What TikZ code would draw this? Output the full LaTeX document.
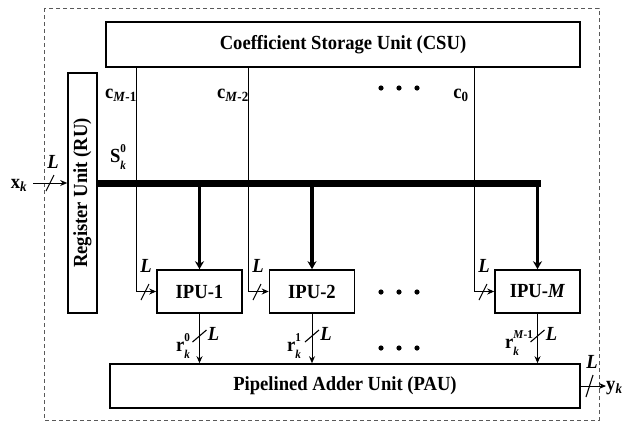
\documentclass[tikz,border=0pt]{standalone}
\usepackage{fontspec}
\setmainfont{Liberation Serif}[FakeStretch=0.93]
\usetikzlibrary{arrows.meta}
\newcommand\stk[3]{#1\rlap{\raisebox{1.15ex}{\fontsize{12}{12}\selectfont#2}}\raisebox{-0.75ex}{\fontsize{12}{12}\selectfont#3}}
\begin{document}
\begin{tikzpicture}[
                x=1pt,y=-1pt,
                every node/.style={font=\fontsize{20}{22}\selectfont\bfseries,inner sep=1pt},
                unit/.style={draw,line width=1.6pt,inner sep=0pt},
                ipu/.style={unit,minimum width=85pt,minimum height=43pt},
                coef/.style={line width=0.9pt,-{Stealth[length=7pt,width=6pt]}},
                drop/.style={line width=3.5pt,-{Stealth[length=8pt,width=9pt]}},
                slash/.style={line width=1.1pt},
                lbl/.style={font=\fontsize{20}{22}\selectfont\bfseries\itshape}
            ]
            \useasboundingbox (0,0) rectangle (624,421);

            % outer frame
            \draw[dash pattern=on 4pt off 3pt,line width=1pt,black!65] (44,8) rectangle (599,420);

            % units
            \node[unit,minimum width=474pt,minimum height=45pt] (csu) at (343,44.5) {Coefficient Storage Unit (CSU)};
            \node[unit,minimum width=29pt,minimum height=240pt] (ru) at (82.5,193) {};
            \node[rotate=90] (rutext) at (ru.center) {Register Unit (RU)};
            \node[unit,minimum width=470pt,minimum height=44pt] (pau) at (345,386) {Pipelined Adder Unit (PAU)};
            \node[ipu] (ipu1) at (199.5,291.5) {IPU-1};
            \node[ipu] (ipu2) at (312,291.5) {IPU-2};
            \node[ipu] (ipuM) at (537.5,291.5) {IPU-\textit{M}};

            % input
            \node (xk) at (19,185) {x\textsubscript{\textit{k}}};
            \draw[coef] (33,183) -- (ru.west |- 0,183);
            \draw[slash] (46,191) -- (54,175);
            \node[lbl] (Lx) at (53,162) {L};

            % data bus
            \draw[line width=7pt] (ru.east |- 0,183) -- (540.5,183);
            \draw[drop] (ipu1.north |- 0,183) -- (ipu1.north);
            \draw[drop] (ipu2.north |- 0,183) -- (ipu2.north);
            \draw[drop] (ipuM.north |- 0,183) -- (ipuM.north);
            \node (sk) at (118,157) {\stk{S}{0}{\textit{k}}};

            % coefficients
            \draw[coef] (csu.south -| 136,0) |- (ipu1.west);
            \draw[coef] (csu.south -| 248,0) |- (ipu2.west);
            \draw[coef] (csu.south -| 474,0) |- (ipuM.west);
            \node (cM1) at (121,95) {c\textsubscript{\textit{M}-1}};
            \node (cM2) at (233,95) {c\textsubscript{\textit{M}-2}};
            \node (c0) at (461,95) {c\textsubscript{0}};
            \foreach \cx in {145,257,483} {
                \draw[slash] (\cx-4,300) -- (\cx+4,284);
                \node[lbl] at (\cx+1,266) {L};
            }

            % partial results
            \draw[coef] (ipu1.south) -- (ipu1.south |- pau.north);
            \draw[coef] (ipu2.south) -- (ipu2.south |- pau.north);
            \draw[coef] (ipuM.south) -- (ipuM.south |- pau.north);
            \foreach \rx in {199.5,312,537.5} {
                \draw[slash] (\rx-7,342) -- (\rx+7,330);
                \node[lbl] at (\rx+14,334) {L};
            }
            \node (r0) at (183,346) {\stk{r}{0}{\textit{k}}};
            \node (r1) at (294,346) {\stk{r}{1}{\textit{k}}};
            \node (rM) at (512,343) {\stk{r}{\textit{M}-1}{\textit{k}}};

            % output
            \draw[coef] (pau.east) -- (606,386);
            \draw[slash] (586,397) -- (593,375);
            \node[lbl] (Ly) at (592,362) {L};
            \node[anchor=west,inner sep=0pt] (yk) at (606,388) {y\textsubscript{\textit{k}}};

            % dots
            \foreach \dy in {88,292,348}
                \foreach \dx in {381,399,417}
                    \fill (\dx,\dy) circle (2.6);

        \end{tikzpicture}
\end{document}
